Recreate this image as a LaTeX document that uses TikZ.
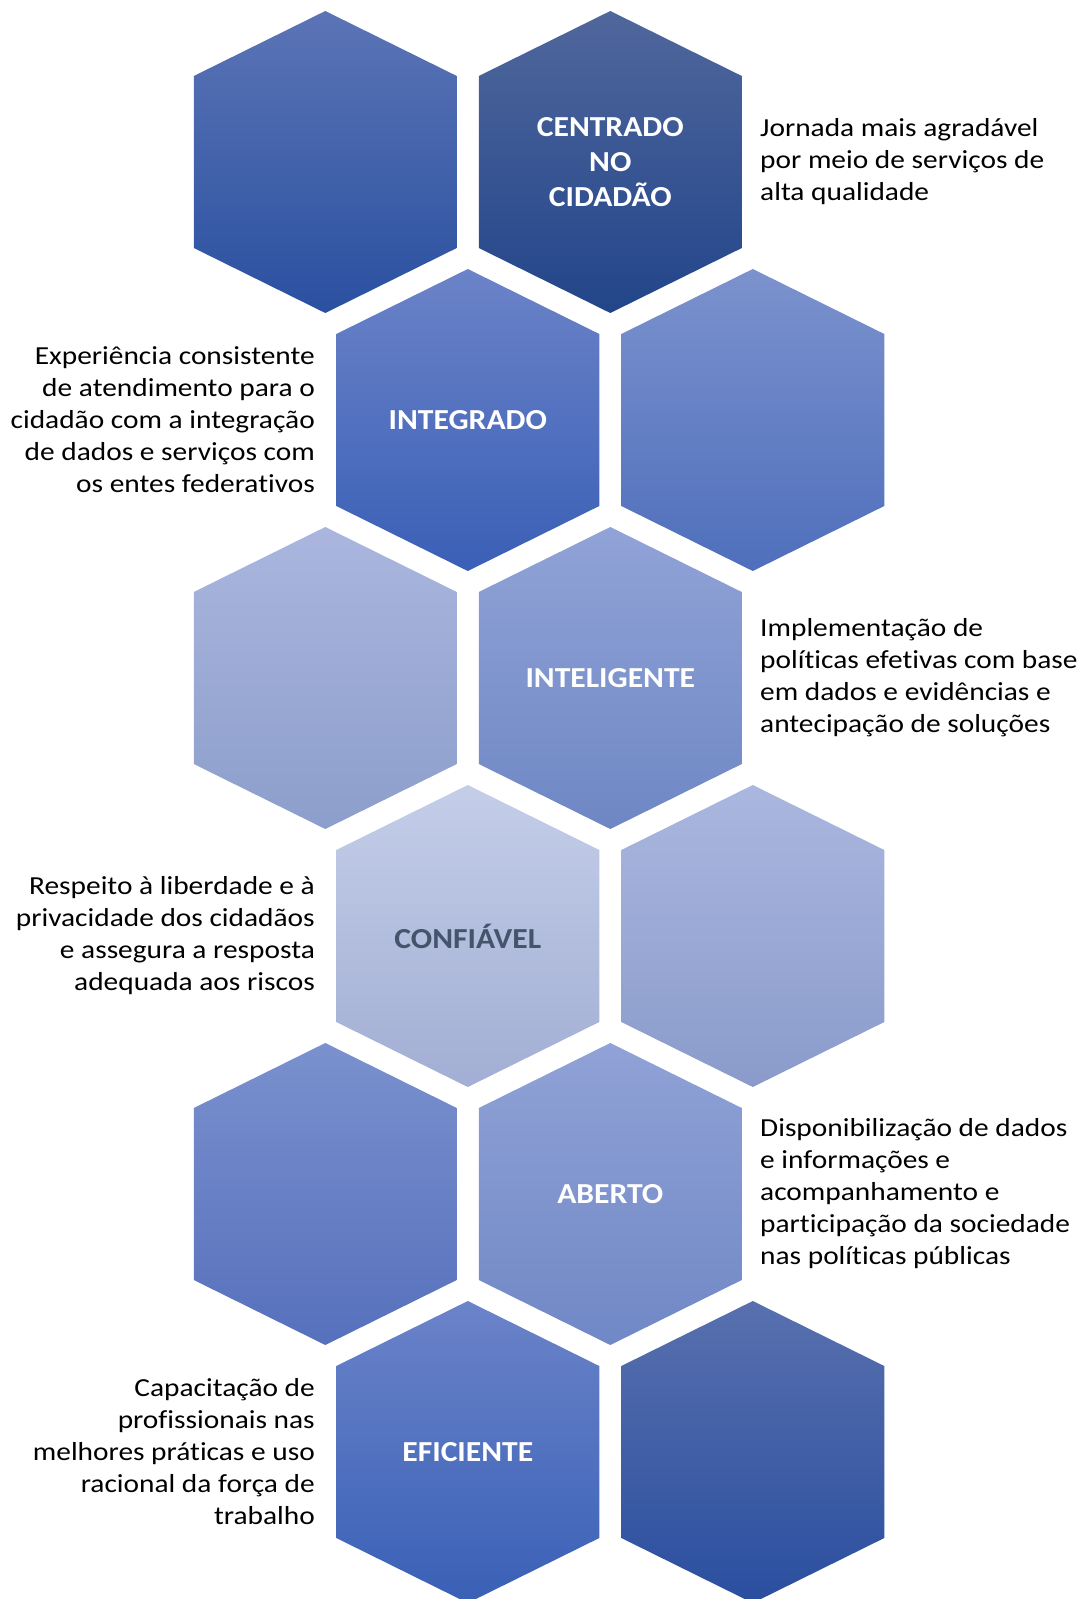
\documentclass[tikz,border=0pt]{standalone}
\usepackage{fontspec}
\setmainfont{Carlito}
\newfontfamily\descfont[FakeStretch=1.13, Ligatures=NoCommon]{Carlito}
\newfontfamily\labelfont[FakeStretch=1.09, Ligatures=NoCommon]{Carlito}
\definecolor{aT}{HTML}{5B74B6}\definecolor{aB}{HTML}{2A50A0}
\definecolor{bT}{HTML}{50679C}\definecolor{bB}{HTML}{22458A}
\definecolor{cT}{HTML}{6B83C8}\definecolor{cB}{HTML}{3A5FB6}
\definecolor{dT}{HTML}{7B92CD}\definecolor{dB}{HTML}{4F6FBC}
\definecolor{eT}{HTML}{AAB6DE}\definecolor{eB}{HTML}{8C9ECB}
\definecolor{fT}{HTML}{91A3D7}\definecolor{fB}{HTML}{6E87C4}
\definecolor{gT}{HTML}{C4CEE9}\definecolor{gB}{HTML}{A2AED3}
\definecolor{hT}{HTML}{AAB7DF}\definecolor{hB}{HTML}{8A9BCB}
\definecolor{iT}{HTML}{7A91CE}\definecolor{iB}{HTML}{5670BC}
\definecolor{jT}{HTML}{90A2D6}\definecolor{jB}{HTML}{7088C6}
\definecolor{kT}{HTML}{6B83C9}\definecolor{kB}{HTML}{3960B6}
\definecolor{lT}{HTML}{5870AE}\definecolor{lB}{HTML}{2A4E9F}
\definecolor{darklabel}{HTML}{44546A}
\newcommand\hexcell[4]{%
  \shade[top color=#3, bottom color=#4]
    ({#1},{#2-151}) -- ({#1+131.5},{#2-86}) -- ({#1+131.5},{#2+86}) --
    ({#1},{#2+151}) -- ({#1-131.5},{#2+86}) -- ({#1-131.5},{#2-86}) -- cycle;}
\tikzset{
  hexlabel/.style={font=\labelfont\bfseries\fontsize{29}{35}\selectfont, text=white, align=center, inner sep=0pt},
  desc/.style={font=\descfont\fontsize{26}{32}\selectfont, text=black, inner sep=0pt},
  descL/.style={desc, anchor=west, align=left},
  descR/.style={desc, anchor=east, align=right},
}
\begin{document}
\begin{tikzpicture}[x=1pt, y=-1pt]
\useasboundingbox (0,0) rectangle (1084,1599);
\begin{scope}
\clip (0,0) rectangle (1084,1599);
% row 1
\hexcell{325.3}{162}{aT}{aB}
\hexcell{610.3}{162}{bT}{bB}
% row 2
\hexcell{467.8}{420}{cT}{cB}
\hexcell{752.8}{420}{dT}{dB}
% row 3
\hexcell{325.3}{678}{eT}{eB}
\hexcell{610.3}{678}{fT}{fB}
% row 4
\hexcell{467.8}{936}{gT}{gB}
\hexcell{752.8}{936}{hT}{hB}
% row 5
\hexcell{325.3}{1194}{iT}{iB}
\hexcell{610.3}{1194}{jT}{jB}
% row 6
\hexcell{467.8}{1452}{kT}{kB}
\hexcell{752.8}{1452}{lT}{lB}
\end{scope}
% labels
\node[hexlabel] (centrado) at (610.3,162) {CENTRADO\\NO\\CIDADÃO};
\node[hexlabel] (integrado) at (467.8,420) {INTEGRADO};
\node[hexlabel] (inteligente) at (610.3,678) {INTELIGENTE};
\node[hexlabel, text=darklabel] (confiavel) at (467.8,936) {CONFIÁVEL};
\node[hexlabel] (aberto) at (610.3,1194) {ABERTO};
\node[hexlabel] (eficiente) at (467.8,1452) {EFICIENTE};
% descriptions
\node[descL] (d1) at (760,162) {Jornada mais agradável\\por meio de serviços de\\alta qualidade};
\node[descR] (d2) at (315,420) {Experiência consistente\\de atendimento para o\\cidadão com a integração\\de dados e serviços com\\os entes federativos};
\node[descL] (d3) at (760,678) {Implementação de\\políticas efetivas com base\\em dados e evidências e\\antecipação de soluções};
\node[descR] (d4) at (315,936) {Respeito à liberdade e à\\privacidade dos cidadãos\\e assegura a resposta\\adequada aos riscos};
\node[descL] (d5) at (760,1194) {Disponibilização de dados\\e informações e\\acompanhamento e\\participação da sociedade\\nas políticas públicas};
\node[descR] (d6) at (315,1452) {Capacitação de\\profissionais nas\\melhores práticas e uso\\racional da força de\\trabalho};
\end{tikzpicture}
\end{document}
